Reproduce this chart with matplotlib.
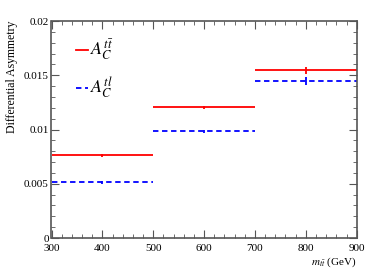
import numpy as np
import matplotlib.pyplot as plt
from matplotlib.ticker import MultipleLocator

# bin edges and values
edges = [300, 500, 700, 900]
centers = [400, 600, 800]
a_tt = [0.00762, 0.01207, 0.01545]
a_tt_err = [0.00014, 0.00014, 0.00032]
a_tl = [0.00513, 0.00983, 0.01444]
a_tl_err = [0.00012, 0.00014, 0.00038]

plt.rcParams['font.family'] = ['Liberation Serif', 'DejaVu Serif']
plt.rcParams['mathtext.fontset'] = 'stix'

fig = plt.figure(figsize=(3.82, 2.73), dpi=100)
ax = fig.add_axes([51.5 / 382, 1 - 238 / 273, (356.7 - 51.5) / 382, (238 - 21) / 273])

xerr = [(edges[i + 1] - edges[i]) / 2 for i in range(3)]
ax.errorbar(centers, a_tt, xerr=xerr, yerr=a_tt_err, fmt='none', ecolor='#ff0000',
            elinewidth=1.3, capsize=0)
eb = ax.errorbar(centers, a_tl, xerr=xerr, yerr=a_tl_err, fmt='none', ecolor='#0000ff',
                 elinewidth=1.3, capsize=0)
eb[2][0].set_linestyle((0, (3, 2)))

ax.set_xlim(300, 900)
ax.set_ylim(0, 0.02)
ax.xaxis.set_major_locator(MultipleLocator(100))
ax.xaxis.set_minor_locator(MultipleLocator(20))
ax.yaxis.set_major_locator(MultipleLocator(0.005))
ax.yaxis.set_minor_locator(MultipleLocator(0.001))
ax.tick_params(which='both', direction='in', top=True, right=True, labelsize=8,
               color='#555555')
ax.tick_params(axis='x', pad=4)
ax.tick_params(axis='y', pad=2)
ax.tick_params(which='major', length=6)
ax.tick_params(which='minor', length=3)
ax.set_yticks([0, 0.005, 0.01, 0.015, 0.02])
ax.set_yticklabels(['0', '0.005', '0.01', '0.015', '0.02'])
for s in ax.spines.values():
    s.set_color('#555555')
    s.set_linewidth(1.2)

ax.set_ylabel('Differential Asymmetry', fontsize=8.5, loc='top', labelpad=4)
ax.set_xlabel(r'$m_{t\bar{t}}$ (GeV)', fontsize=8, loc='right', labelpad=2)

# legend drawn by hand, like ROOT's TLegend
ax.plot([348, 372], [0.01733, 0.01733], color='#ff0000', lw=1.3)
ax.text(375, 0.01733, r'$A_C^{t\bar{t}}$', fontsize=13, va='center')
ax.plot([348, 372], [0.01382, 0.01382], color='#0000ff', lw=1.3, ls=(0, (3, 2)))
ax.text(375, 0.01382, r'$A_C^{tl}$', fontsize=13, va='center')

fig.savefig('out.png', dpi=100)
